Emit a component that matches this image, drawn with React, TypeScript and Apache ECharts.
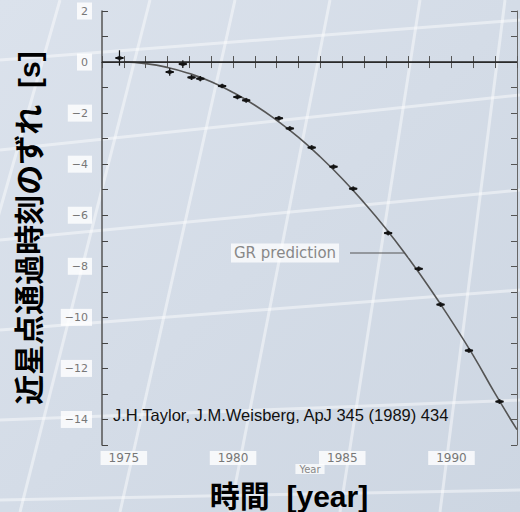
import React, { useEffect, useRef } from "react";
import * as echarts from "echarts";

// Observed periastron time shift (s) of PSR 1913+16
const obsYear = [1974.8, 1977.1, 1977.7, 1978.1, 1978.5, 1979.5, 1980.2, 1980.6, 1982.1, 1982.6, 1983.6, 1984.6, 1985.5, 1987.1, 1988.5, 1989.5, 1990.8, 1992.2];
const obsShift = [0.16, -0.39, -0.08, -0.6, -0.65, -0.94, -1.37, -1.5, -2.2, -2.6, -3.35, -4.1, -4.96, -6.7, -8.1, -9.5, -11.3, -13.3];
const obsErr = [0.3, 0.15, 0.15, 0.1, 0.1, 0.08, 0.08, 0.08, 0.08, 0.08, 0.08, 0.08, 0.08, 0.08, 0.08, 0.08, 0.08, 0.08];

// GR prediction curve
const curveYear = [1975, 1976, 1977, 1978, 1979, 1980, 1981, 1982, 1983, 1984, 1985, 1986, 1987, 1988, 1989, 1990, 1991, 1992, 1993];
const curveShift = [0.0, -0.06, -0.21, -0.45, -0.77, -1.19, -1.69, -2.28, -2.95, -3.72, -4.57, -5.51, -6.53, -7.65, -8.85, -10.14, -11.5, -12.99, -14.4];

const xLabelYears = [1975, 1980, 1985, 1990];
const yLabelValues = [2, 0, -2, -4, -6, -8, -10, -12, -14];

const yTitle = "近星点通過時刻のずれ  [s]";
const xTitle = "時間  [year]";
const innerXTitle = "Year";
const grLabel = "GR prediction";
const citation = "J.H.Taylor, J.M.Weisberg, ApJ 345 (1989) 434";

export default function App() {
  const ref = useRef<HTMLDivElement>(null);
  useEffect(() => {
    document.body.style.margin = "0";
    const chart = echarts.init(ref.current!, null, { renderer: "svg" });

    const bgLines: any[] = [];
    // faint white mesh in background
    const vLines = [
      [[20, 512], [150, 0]], [[120, 512], [235, 0]], [[230, 512], [330, 0]],
      [[340, 512], [420, 0]], [[440, 512], [505, 0]], [[-60, 420], [60, 0]],
    ];
    const hLines = [
      [[0, 60], [520, 20]], [[0, 150], [520, 95]], [[0, 240], [520, 190]],
      [[0, 330], [520, 290]], [[0, 420], [520, 400]], [[0, 500], [520, 490]],
    ];
    [...vLines, ...hLines].forEach((l) =>
      bgLines.push({
        type: "line",
        silent: true,
        z: -10,
        shape: { x1: l[0][0], y1: l[0][1], x2: l[1][0], y2: l[1][1] },
        style: { stroke: "rgba(255,255,255,0.45)", lineWidth: 3 },
      })
    );

    const tickFont = "DejaVu Sans, sans-serif";
    const labelFont = "Liberation Sans, Arial, sans-serif";
    const patch = {
      color: "#777",
      fontFamily: tickFont,
      backgroundColor: "rgba(255,255,255,0.8)",
    };

    chart.setOption({
      animation: false,
      backgroundColor: {
        type: "linear", x: 0, y: 0, x2: 1, y2: 1,
        colorStops: [
          { offset: 0, color: "#dbe2ec" },
          { offset: 1, color: "#cdd6e2" },
        ],
      },
      grid: { left: 102, right: 3, top: 11, bottom: 67, show: false },
      xAxis: [
        {
          type: "value",
          min: 1974,
          max: 1993,
          interval: 1,
          position: "bottom",
          axisLine: { lineStyle: { color: "#333", width: 1.2 } },
          axisTick: { inside: true, length: 6, lineStyle: { color: "#555" } },
          axisLabel: {
            margin: 6,
            formatter: (v: number) => (xLabelYears.includes(v) ? `{p|${v}}` : ""),
            rich: { p: { ...patch, fontSize: 12, padding: [1, 8] } },
          },
          splitLine: { show: false },
        },
        {
          type: "value",
          min: 1974,
          max: 1993,
          interval: 1,
          position: "top",
          axisLine: { lineStyle: { color: "#444", width: 1 } },
          axisTick: { inside: true, length: 6, lineStyle: { color: "#555" } },
          axisLabel: { show: false },
          splitLine: { show: false },
        },
      ],
      yAxis: [
        {
          type: "value",
          min: -15,
          max: 2,
          interval: 1,
          position: "left",
          axisLine: { lineStyle: { color: "#555", width: 1.5 } },
          axisTick: { inside: true, length: 6, lineStyle: { color: "#444" } },
          axisLabel: {
            margin: 10,
            formatter: (v: number) =>
              yLabelValues.includes(v) ? `{p|${String(v).replace("-", "−")}}` : "",
            rich: { p: { ...patch, fontSize: 11, padding: [3, 4] } },
          },
          splitLine: { show: false },
        },
        {
          type: "value",
          min: -15,
          max: 2,
          interval: 1,
          position: "right",
          axisLine: { lineStyle: { color: "#666", width: 1 } },
          axisTick: { inside: true, length: 6, lineStyle: { color: "#555" } },
          axisLabel: { show: false },
          splitLine: { show: false },
        },
      ],
      series: [
        {
          name: "GR prediction",
          type: "line",
          smooth: true,
          symbol: "none",
          data: curveYear.map((y, i) => [y, curveShift[i]]),
          lineStyle: { color: "#555", width: 1.6 },
          markLine: {
            silent: true,
            symbol: "none",
            label: { show: false },
            lineStyle: { color: "#222", width: 1.5, type: "solid" },
            data: [{ yAxis: 0 }],
          },
          z: 2,
        },
        {
          name: "errors",
          type: "custom",
          data: obsYear.map((y, i) => [y, obsShift[i], obsErr[i]]),
          renderItem: (params: any, api: any) => {
            const x = api.value(0);
            const y = api.value(1);
            const e = api.value(2);
            const c = api.coord([x, y]);
            const top = api.coord([x, y + e]);
            const bot = api.coord([x, y - e]);
            const s = { stroke: "#111", lineWidth: 1.2 };
            return {
              type: "group",
              children: [
                { type: "line", shape: { x1: c[0], y1: top[1], x2: c[0], y2: bot[1] }, style: s },
                { type: "line", shape: { x1: c[0] - 4, y1: c[1], x2: c[0] + 4, y2: c[1] }, style: { stroke: "#111", lineWidth: 2 } },
              ],
            };
          },
          z: 3,
        },
        {
          name: "observed",
          type: "scatter",
          symbol: "diamond",
          symbolSize: [9, 5],
          itemStyle: { color: "#111" },
          data: obsYear.map((y, i) => [y, obsShift[i]]),
          z: 4,
        },
      ],
      graphic: [
        ...bgLines,
        {
          type: "text",
          z: 6,
          x: 231,
          y: 253,
          style: {
            text: grLabel,
            fontSize: 15,
            fontFamily: tickFont,
            fill: "#888",
            verticalAlign: "middle",
            align: "left",
            backgroundColor: "rgba(255,255,255,0.75)",
            padding: [2, 3],
          },
        },
        {
          type: "line",
          z: 6,
          shape: { x1: 350, y1: 253, x2: 405, y2: 253 },
          style: { stroke: "#555", lineWidth: 1.2 },
        },
        {
          type: "text",
          z: 6,
          x: 113,
          y: 415,
          style: {
            text: citation,
            fontSize: 16.5,
            fontFamily: labelFont,
            fill: "#111",
            verticalAlign: "middle",
            align: "left",
          },
        },
        {
          type: "text",
          z: 6,
          x: 310,
          y: 469,
          style: {
            text: innerXTitle,
            fontSize: 10,
            fontFamily: tickFont,
            fill: "#888",
            align: "center",
            verticalAlign: "middle",
            backgroundColor: "rgba(255,255,255,0.75)",
            padding: [0, 4],
          },
        },
        {
          type: "text",
          z: 6,
          x: 289,
          y: 496,
          style: {
            text: xTitle,
            fontSize: 30,
            fontWeight: "bold",
            fontFamily: "Liberation Sans, Noto Sans CJK JP, sans-serif",
            fill: "#000",
            align: "center",
            verticalAlign: "middle",
          },
        },
        {
          type: "text",
          z: 6,
          x: 29,
          y: 228,
          rotation: Math.PI / 2,
          style: {
            text: yTitle,
            fontSize: 30,
            fontWeight: "bold",
            fontFamily: "Liberation Sans, Noto Sans CJK JP, sans-serif",
            fill: "#000",
            align: "center",
            verticalAlign: "middle",
          },
        },
      ],
    });
    return () => chart.dispose();
  }, []);
  return <div ref={ref} style={{ width: 520, height: 512, position: "absolute", left: 0, top: 0 }} />;
}
